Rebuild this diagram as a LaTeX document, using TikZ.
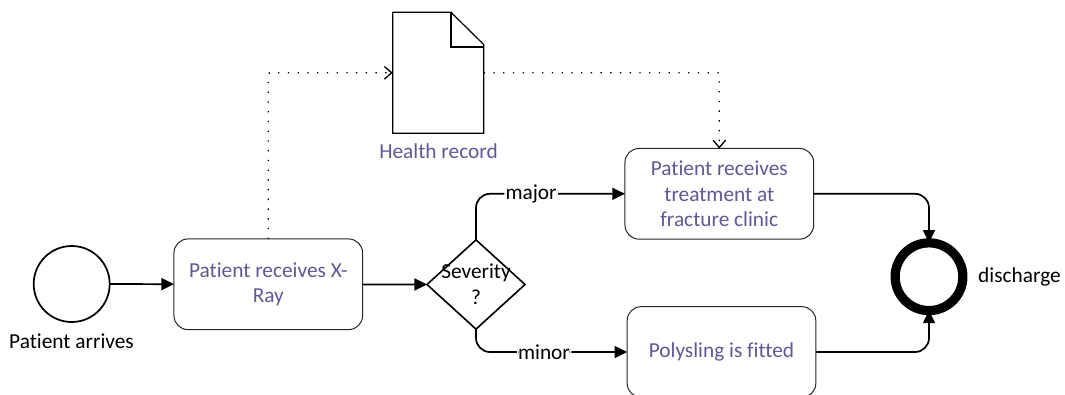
\documentclass[tikz,border=0pt]{standalone}
\usepackage{fontspec}
\setmainfont[Ligatures=NoCommon]{Carlito}
\usetikzlibrary{arrows.meta,shapes.geometric}
\begin{document}
\begin{tikzpicture}[x=0.75pt, y=-0.75pt,
    every node/.style={font=\fontsize{16}{19.3}\selectfont, outer sep=0pt, inner sep=0pt},
    task/.style={draw=black!85, line width=0.75pt, rounded corners=10.5pt, align=center, text=my-purple, minimum width=141.5pt, minimum height=68pt},
    event/.style={circle, draw=black, minimum size=57pt, line width=1.3pt},
    flow/.style={line width=1.3pt, rounded corners=10.5pt, -{Triangle[length=9.5pt, width=9pt]}},
    assoc/.style={line width=1pt, dash pattern=on 1pt off 6.3pt, rounded corners=1pt, -{Straight Barb[length=5.5pt, width=9.5pt, line width=1pt]}},
    flowlabel/.style={fill=white, inner xsep=1pt}]
    \definecolor{my-purple}{rgb}{0.37,0.35,0.58}
    \clip (0,0) rectangle (1065,394);
    \useasboundingbox (0,0) rectangle (1065,394);
    \node[event] (start) at (71.7,284) {};
    \node (startlabel) at (71.5,341) {Patient arrives};
    \node[task] (xray) at (268.3,284.3) {Patient receives X-\\Ray};
    \node[diamond, draw=black, line width=1.2pt, minimum width=73.5pt, minimum height=67pt, aspect=1.1] (severity) at (476,284.5) {};
    \node[align=center] (severitylabel) at (476,284.5) {Severity\\?};
    \node[task] (treatment) at (719.3,193.8) {Patient receives\\treatment at\\fracture clinic};
    \node[task] (polysling) at (721.5,352) {Polysling is fitted};
    \node[circle, draw=black, line width=6.9pt, minimum size=50.8pt] (discharge) at (929,276.7) {};
    \node (dischargelabel) at (1019.5,276.5) {discharge};
    \node[minimum width=68.2pt, minimum height=90.8pt] (record) at (438.2,72.8) {};
    \node[text=my-purple] (recordlabel) at (438.5,151.5) {Health record};
    \draw[line width=0.9pt] (record.north west) -- (451,12.3) -- (483.7,44.5) -- (record.south east) -- (record.south west) -- cycle;
    \draw[line width=1.3pt] (451,12.3) -- (451,47.3) -- (483.7,47.3);
    \draw[flow] (start) -- (xray);
    \draw[flow] (xray) -- (severity);
    \draw[flow] (severity.north) |- (treatment.west) node[pos=0.685, flowlabel] (majorlabel) {major};
    \draw[flow] (severity.south) |- (polysling.west) node[pos=0.725, flowlabel] (minorlabel) {minor};
    \draw[flow] (treatment.east) -| (discharge.north);
    \draw[flow] (polysling.east) -| (discharge.south);
    \draw[assoc] (xray.north) |- (record.west);
    \draw[assoc] (record.east) -| (treatment.north);
\end{tikzpicture}
\end{document}
